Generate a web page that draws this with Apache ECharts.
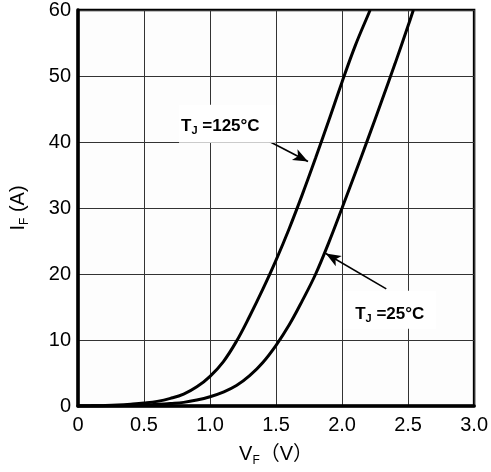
<!DOCTYPE html>
<html>
<head>
<meta charset="utf-8">
<script src="https://cdn.jsdelivr.net/npm/echarts@6/dist/echarts.min.js"></script>
<style>
  html, body { margin: 0; padding: 0; background: #ffffff; }
  #chart { width: 491px; height: 472px; }
</style>
</head>
<body>
<div id="chart"></div>
<script>
// Forward characteristic: forward current I_F versus forward voltage V_F
const vfTicks = [0, 0.5, 1.0, 1.5, 2.0, 2.5, 3.0];
const ifTicks = [0, 10, 20, 30, 40, 50, 60];

// T_J = 125 °C
const vf125 = [0, 0.1, 0.2, 0.3, 0.4, 0.5, 0.6, 0.7, 0.8, 0.9, 1.0, 1.1, 1.2, 1.3, 1.4, 1.5, 1.6, 1.7, 1.8, 1.9, 2.0, 2.1, 2.2, 2.213];
const if125 = [0, 0.02, 0.07, 0.15, 0.28, 0.45, 0.7, 1.15, 1.8, 2.9, 4.5, 6.7, 9.8, 13.6, 17.7, 22.1, 26.9, 32.1, 37.6, 43.3, 49.1, 54.6, 59.4, 60];

// T_J = 25 °C
const vf25 = [0, 0.1, 0.2, 0.3, 0.4, 0.5, 0.6, 0.7, 0.8, 0.9, 1.0, 1.1, 1.2, 1.3, 1.4, 1.5, 1.6, 1.7, 1.8, 1.9, 2.0, 2.1, 2.2, 2.3, 2.4, 2.5, 2.54];
const if25 = [0, 0, 0.01, 0.04, 0.08, 0.15, 0.25, 0.38, 0.55, 0.9, 1.4, 2.1, 3.1, 4.6, 6.6, 9.2, 12.3, 16.0, 20, 24.8, 30, 35.3, 40.7, 46.2, 51.8, 57.6, 60];

// Annotation placement (data units): tag box centre, arrow tail, arrow tip
const label125 = { text: '=125°C', at: [1.131, 42.75], pad: [12, 16, 8, 2], tail: [1.337, 41.25], tip: [1.742, 37.05] };
const label25 = { text: '=25°C', at: [2.361, 14.6], pad: [14, 12, 6, 12], tail: [2.335, 17.75], tip: [1.877, 23.1] };

const FONT = '"Liberation Sans", Arial, "Noto Sans CJK SC", sans-serif';

function pairs(xs, ys) { return xs.map((x, i) => [x, ys[i]]); }

function tagLabel(lbl) {
  return {
    symbol: 'none',
    silent: true,
    data: [{
      coord: lbl.at,
      symbol: 'circle',
      symbolSize: 0,
      label: {
        show: true,
        position: 'inside',
        formatter: '{t|T}{s|J}{t| ' + lbl.text + '}',
        backgroundColor: '#ffffff',
        padding: lbl.pad,
        rich: {
          t: { fontFamily: FONT, fontWeight: 'bold', fontSize: 17, color: '#000', lineHeight: 18, verticalAlign: 'bottom' },
          s: { fontFamily: FONT, fontWeight: 'bold', fontSize: 11, color: '#000', lineHeight: 18, verticalAlign: 'bottom', padding: [0, 0, -2, 0] }
        }
      }
    }]
  };
}

function arrow(lbl) {
  return {
    silent: true,
    symbol: ['none', 'arrow'],
    symbolSize: [9, 15],
    label: { show: false },
    lineStyle: { color: '#000', width: 1.6, type: 'solid' },
    data: [[{ coord: lbl.tail }, { coord: lbl.tip }]]
  };
}

const axisNameRich = {
  m: { fontFamily: FONT, fontSize: 20, color: '#000', lineHeight: 22, verticalAlign: 'bottom' },
  s: { fontFamily: FONT, fontSize: 12, color: '#000', lineHeight: 22, verticalAlign: 'bottom', padding: [0, 0, -3, 0] }
};

const chart = echarts.init(document.getElementById('chart'), null, { renderer: 'canvas' });

chart.setOption({
  animation: false,
  backgroundColor: '#ffffff',
  grid: {
    left: 78, top: 10, width: 400, height: 400,
    show: true, borderColor: '#000', borderWidth: 2.5, backgroundColor: '#fdfdfd'
  },
  xAxis: {
    type: 'value',
    min: vfTicks[0], max: vfTicks[vfTicks.length - 1], interval: 0.5,
    axisLine: { show: true, lineStyle: { color: '#000', width: 3.5 } },
    axisTick: { show: false },
    splitLine: { show: true, lineStyle: { color: '#333', width: 1 } },
    axisLabel: {
      margin: 9, color: '#000', fontFamily: FONT, fontSize: 20,
      formatter: v => (v === 0 ? '0' : v.toFixed(1))
    },
    name: '{m|V}{s|F}{m|（V）}',
    nameLocation: 'middle',
    nameGap: 36,
    nameTextStyle: { rich: axisNameRich }
  },
  yAxis: {
    type: 'value',
    min: ifTicks[0], max: ifTicks[ifTicks.length - 1], interval: 10,
    axisLine: { show: true, lineStyle: { color: '#000', width: 3.5 } },
    axisTick: { show: false },
    splitLine: { show: true, lineStyle: { color: '#333', width: 1 } },
    axisLabel: { margin: 7, color: '#000', fontFamily: FONT, fontSize: 20 },
    name: '{m|I}{s|F}{m| (A)}',
    nameLocation: 'middle',
    nameRotate: 90,
    nameGap: 50,
    nameTextStyle: { rich: axisNameRich }
  },
  series: [
    {
      name: 'TJ=125°C',
      type: 'line',
      data: pairs(vf125, if125),
      smooth: 0.4,
      showSymbol: false,
      clip: true,
      lineStyle: { color: '#000', width: 3 },
      markLine: arrow(label125),
      markPoint: tagLabel(label125)
    },
    {
      name: 'TJ=25°C',
      type: 'line',
      data: pairs(vf25, if25),
      smooth: 0.4,
      showSymbol: false,
      clip: true,
      lineStyle: { color: '#000', width: 3 },
      markLine: arrow(label25),
      markPoint: tagLabel(label25)
    }
  ]
});
</script>
</body>
</html>
